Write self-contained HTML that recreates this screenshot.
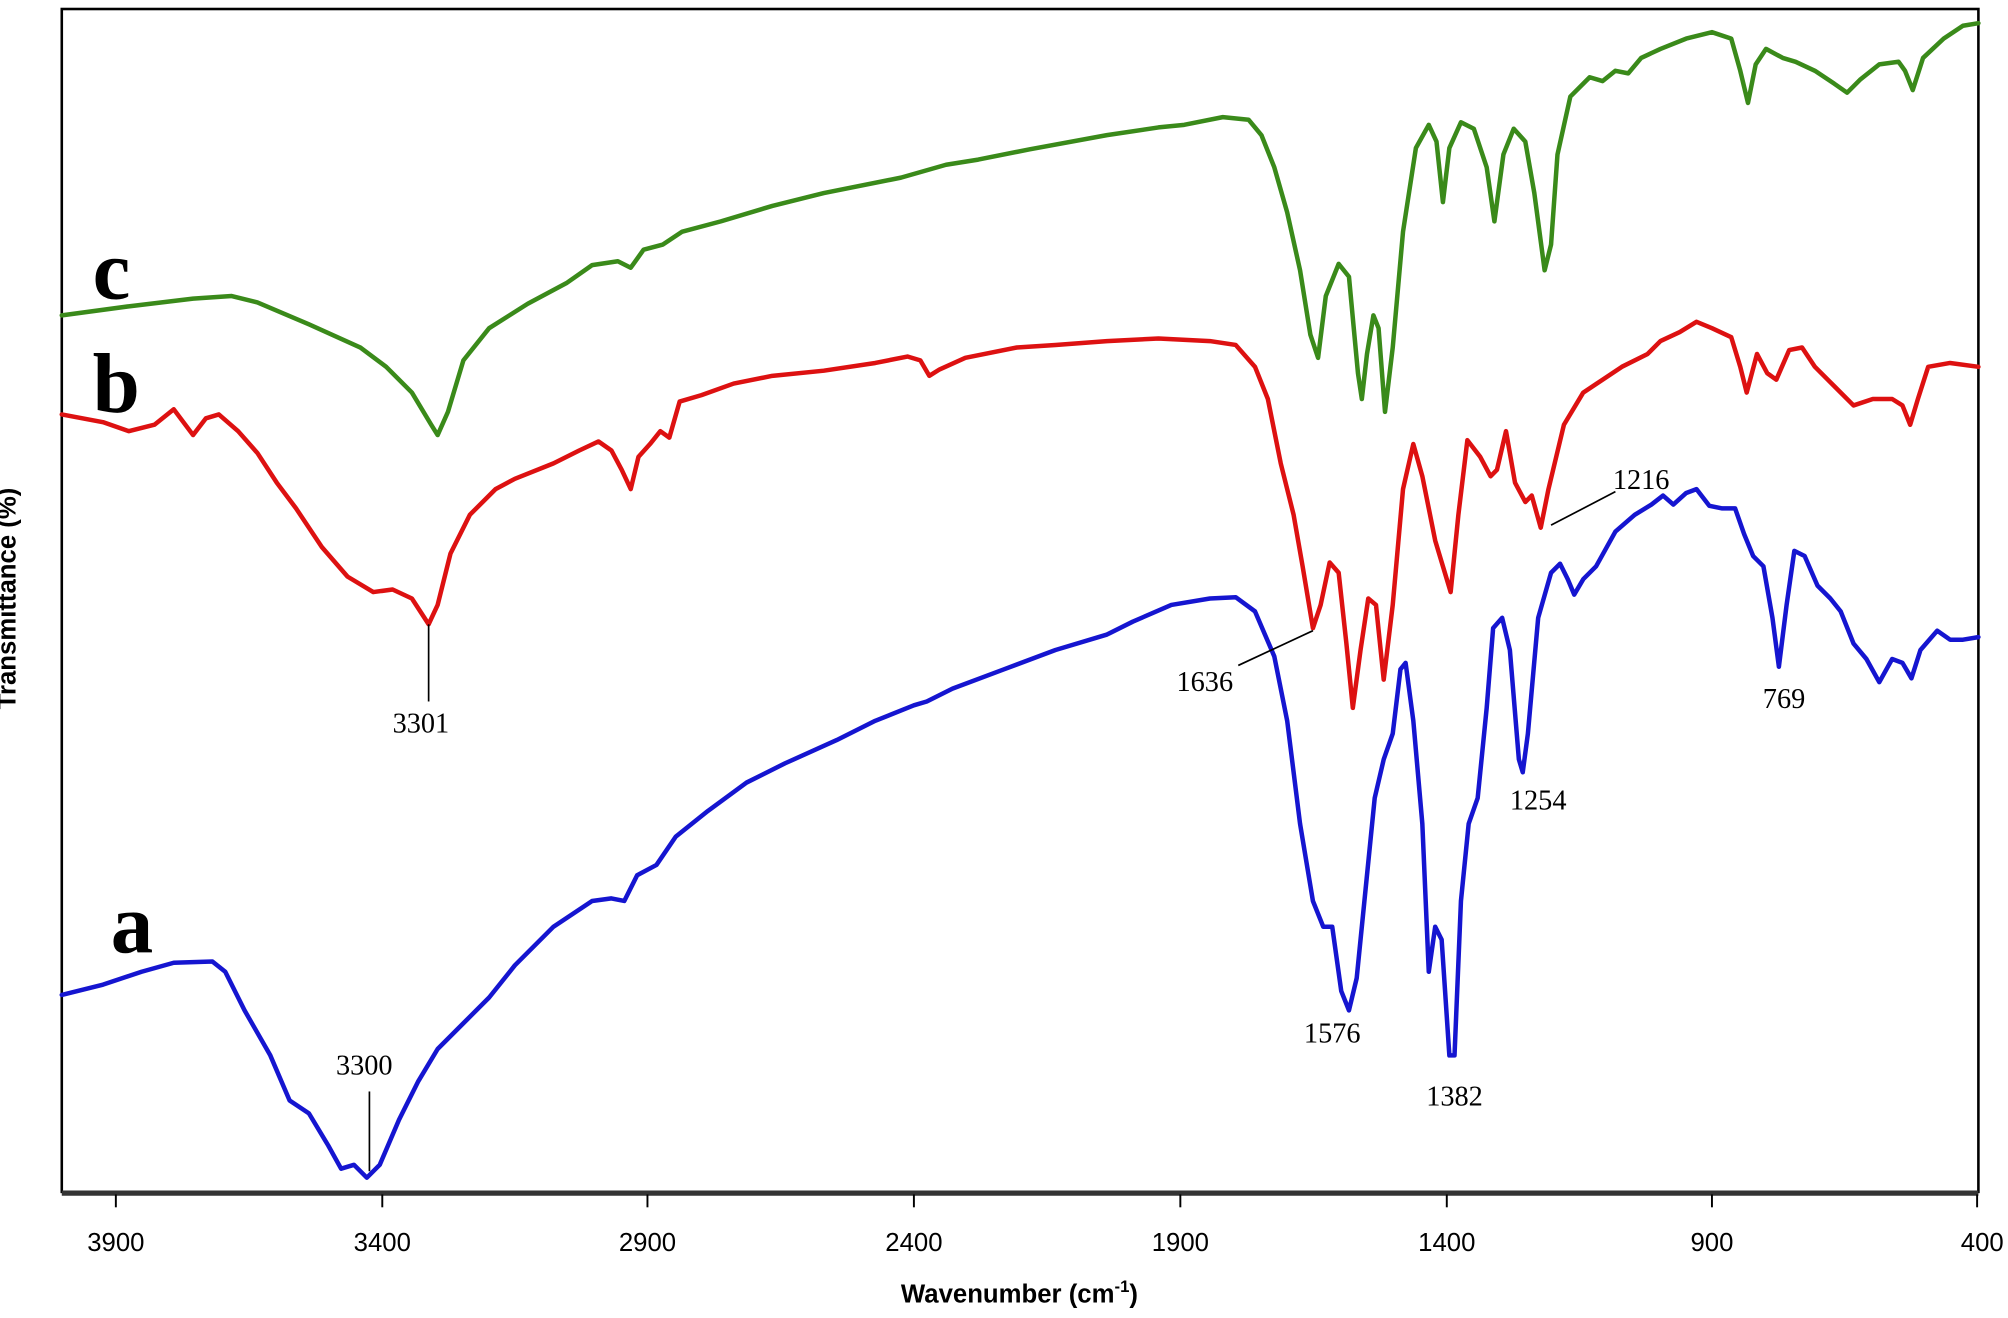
<!DOCTYPE html>
<html><head><style>html,body{margin:0;padding:0;background:#fff;}svg{display:block}</style></head>
<body>
<svg width="2008" height="1318" viewBox="0 0 1560 1024" preserveAspectRatio="none" xmlns="http://www.w3.org/2000/svg">
<rect width="1560" height="1024" fill="#fff"/>
<rect x="48" y="7" width="1489" height="919" fill="none" stroke="#000" stroke-width="2"/>
<line x1="48" y1="927" x2="1537" y2="927" stroke="#333" stroke-width="4"/>
<g stroke="#000" stroke-width="1.5">
<line x1="90" y1="928" x2="90" y2="938"/><line x1="297" y1="928" x2="297" y2="938"/><line x1="503" y1="928" x2="503" y2="938"/><line x1="710" y1="928" x2="710" y2="938"/><line x1="917" y1="928" x2="917" y2="938"/><line x1="1124" y1="928" x2="1124" y2="938"/><line x1="1330" y1="928" x2="1330" y2="938"/><line x1="1536" y1="928" x2="1536" y2="938"/>
</g>
<g font-family="Liberation Sans, sans-serif" font-size="20" text-anchor="middle" fill="#000">
<text x="90" y="972">3900</text><text x="297" y="972">3400</text><text x="503" y="972">2900</text><text x="710" y="972">2400</text><text x="917" y="972">1900</text><text x="1124" y="972">1400</text><text x="1330" y="972">900</text><text x="1540" y="972">400</text>
<text x="792" y="1012" font-weight="bold">Wavenumber (cm<tspan font-size="13" dy="-8">-1</tspan><tspan dy="8">)</tspan></text>
<text transform="translate(12,465) rotate(-90)" font-weight="bold">Transmittance (%)</text>
</g>
<g fill="none" stroke-width="3.5" stroke-linejoin="round" stroke-linecap="round">
<polyline stroke="#3a8a1a" points="48,245 100,238 150,232 180,230 200,235 240,252 280,270 300,285 320,305 335,330 340,338 348,320 360,280 380,255 410,236 440,220 460,206 480,203 490,208 500,194 515,190 530,180 560,172 600,160 640,150 700,138 735,128 760,124 800,116 860,105 900,99 920,97 950,91 970,93 980,105 990,130 1000,165 1010,210 1018,260 1024,278 1030,230 1040,205 1048,215 1055,290 1058,310 1062,275 1067,245 1071,255 1076,320 1082,270 1090,180 1100,115 1110,97 1116,110 1121,157 1126,115 1135,95 1145,100 1155,130 1161,172 1168,120 1176,100 1185,110 1192,150 1200,210 1205,190 1210,120 1220,75 1235,60 1245,63 1255,55 1265,57 1275,45 1290,38 1310,30 1330,25 1345,30 1352,55 1358,80 1364,50 1372,38 1385,45 1395,48 1410,55 1425,65 1435,72 1445,62 1460,50 1475,48 1480,55 1486,70 1494,45 1510,30 1525,20 1537,18"/>
<polyline stroke="#dd1111" points="48,322 80,328 100,335 120,330 135,318 150,338 160,325 170,322 185,335 200,352 215,375 230,395 250,425 270,448 290,460 305,458 320,465 333,485 340,470 350,430 365,400 385,380 400,372 430,360 450,350 465,343 475,350 483,365 490,380 496,355 505,345 513,335 520,340 528,312 545,307 570,298 600,292 640,288 680,282 705,277 715,280 722,292 730,287 750,278 790,270 820,268 860,265 900,263 940,265 960,268 975,285 985,310 995,360 1005,400 1012,440 1020,488 1026,470 1033,437 1040,445 1046,500 1051,550 1057,505 1063,465 1069,470 1075,528 1082,470 1090,380 1098,345 1105,370 1115,420 1127,460 1133,400 1140,342 1150,355 1158,370 1163,365 1170,335 1177,375 1185,390 1190,385 1197,410 1203,380 1215,330 1230,305 1245,295 1260,285 1280,275 1290,265 1305,258 1318,250 1330,255 1345,262 1352,285 1357,305 1365,275 1373,290 1380,295 1390,272 1400,270 1410,285 1425,300 1440,315 1455,310 1470,310 1478,315 1484,330 1490,310 1498,285 1515,282 1537,285"/>
<polyline stroke="#1515d0" points="48,773 80,765 110,755 135,748 165,747 175,755 190,785 210,820 225,855 240,865 255,890 265,908 275,905 285,915 295,905 310,870 325,840 340,815 360,795 380,775 400,750 430,720 460,700 475,698 485,700 495,680 510,672 525,650 550,630 580,608 610,593 650,575 680,560 710,548 720,545 740,535 780,520 820,505 860,493 880,483 910,470 940,465 960,464 975,475 990,510 1000,560 1010,640 1020,700 1028,720 1035,720 1042,770 1048,785 1054,760 1060,700 1068,620 1075,590 1082,570 1088,520 1092,515 1098,560 1105,640 1110,755 1115,720 1120,730 1126,820 1130,820 1135,700 1141,640 1148,620 1155,550 1160,488 1167,480 1173,505 1180,590 1183,600 1187,570 1195,480 1205,445 1212,438 1218,450 1223,462 1230,450 1240,440 1255,413 1270,400 1283,392 1292,385 1300,392 1310,383 1318,380 1328,393 1338,395 1348,395 1355,415 1362,432 1370,440 1377,480 1382,518 1388,470 1394,428 1402,432 1412,455 1422,465 1430,475 1440,500 1450,512 1460,530 1470,512 1478,515 1485,527 1492,505 1505,490 1515,497 1525,497 1537,495"/>
</g>
<g stroke="#000" stroke-width="1.3">
<line x1="333" y1="485" x2="333" y2="545"/>
<line x1="287" y1="848" x2="287" y2="910"/>
<line x1="962" y1="517" x2="1020" y2="490"/>
<line x1="1205" y1="408" x2="1255" y2="382"/>
</g>
<g font-family="Liberation Serif, serif" font-size="22" text-anchor="middle" fill="#000">
<text x="327" y="569">3301</text>
<text x="283" y="835">3300</text>
<text x="936" y="537">1636</text>
<text x="1275" y="380">1216</text>
<text x="1035" y="810">1576</text>
<text x="1130" y="859">1382</text>
<text x="1195" y="629">1254</text>
<text x="1386" y="550">769</text>
</g>
<g font-family="Liberation Serif, serif" font-size="66" font-weight="bold" fill="#000">
<text x="72" y="232">c</text>
<text x="72" y="320">b</text>
<text x="86" y="740">a</text>
</g>
</svg>
</body></html>
